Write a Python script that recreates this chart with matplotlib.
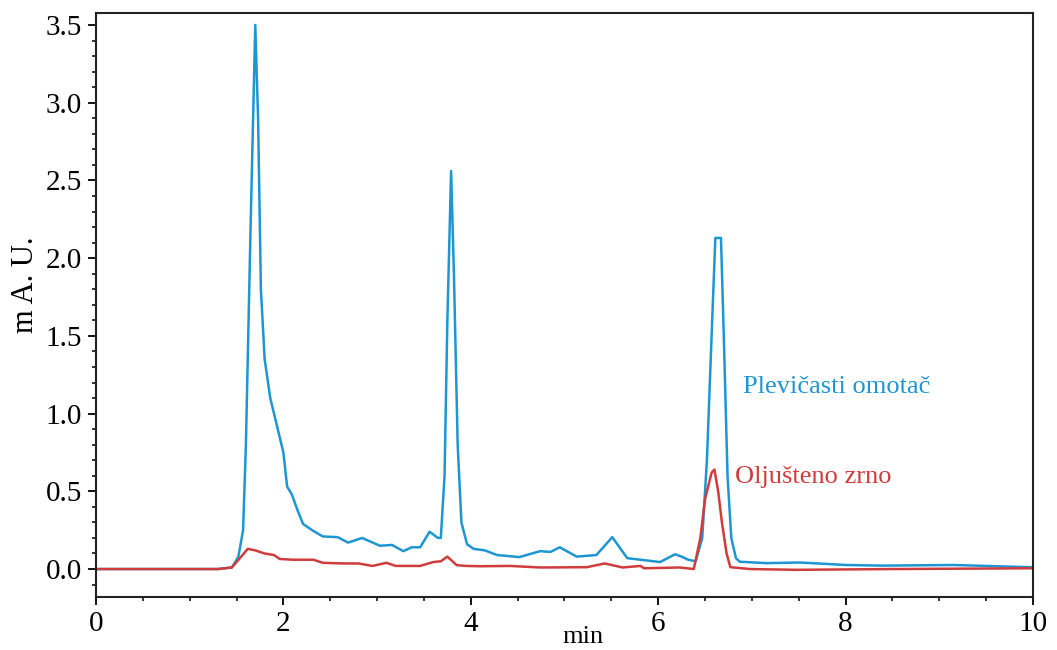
import numpy as np
import matplotlib.pyplot as plt
from matplotlib.ticker import MultipleLocator

# Chromatogram traces (time in min, signal in mAU)
blue_t = [0.0, 0.5, 1.0, 1.3, 1.45, 1.52, 1.57, 1.60, 1.65, 1.70, 1.73, 1.76,
          1.80, 1.86, 1.92, 2.00, 2.04, 2.09, 2.15, 2.21, 2.32, 2.42, 2.58, 2.69,
          2.84, 3.03, 3.16, 3.28, 3.37, 3.46, 3.56, 3.65, 3.68, 3.72, 3.75, 3.79,
          3.82, 3.86, 3.90, 3.96, 4.03, 4.15, 4.28, 4.52, 4.74, 4.85, 4.95, 5.13,
          5.34, 5.51, 5.67, 6.02, 6.18, 6.25, 6.32, 6.40, 6.47, 6.52, 6.57, 6.61,
          6.67, 6.70, 6.74, 6.78, 6.83, 6.87, 7.16, 7.51, 8.01, 8.40, 9.15, 9.97,
          10.0]
blue_y = [0.0, 0.0, 0.0, 0.0, 0.01, 0.08, 0.25, 0.8, 2.2, 3.5, 2.9, 1.8,
          1.35, 1.1, 0.95, 0.75, 0.53, 0.48, 0.38, 0.29, 0.245, 0.21, 0.205, 0.17,
          0.2, 0.15, 0.155, 0.115, 0.14, 0.14, 0.24, 0.2, 0.2, 0.6, 1.6, 2.56,
          1.9, 0.8, 0.3, 0.16, 0.13, 0.12, 0.09, 0.077, 0.115, 0.11, 0.14, 0.08,
          0.09, 0.205, 0.07, 0.045, 0.095, 0.08, 0.06, 0.05, 0.2, 0.7, 1.5, 2.13,
          2.13, 1.5, 0.6, 0.2, 0.07, 0.047, 0.038, 0.042, 0.026, 0.022, 0.026, 0.012,
          0.012]

red_t = [0.0, 0.5, 1.0, 1.3, 1.45, 1.55, 1.62, 1.70, 1.80, 1.90, 1.96, 2.10,
         2.32, 2.42, 2.64, 2.80, 2.95, 3.10, 3.20, 3.46, 3.60, 3.68, 3.75, 3.85,
         3.95, 4.10, 4.42, 4.74, 5.24, 5.43, 5.62, 5.81, 5.85, 6.23, 6.38, 6.45,
         6.50, 6.57, 6.60, 6.64, 6.68, 6.73, 6.77, 6.98, 7.48, 8.5, 10.0]
red_y = [0.0, 0.0, 0.0, 0.0, 0.01, 0.08, 0.13, 0.12, 0.1, 0.09, 0.065, 0.06,
         0.06, 0.04, 0.036, 0.036, 0.02, 0.04, 0.02, 0.02, 0.045, 0.05, 0.08, 0.025,
         0.02, 0.018, 0.02, 0.01, 0.012, 0.036, 0.01, 0.02, 0.005, 0.01, 0.0, 0.2,
         0.45, 0.62, 0.64, 0.5, 0.3, 0.1, 0.012, 0.0, -0.005, 0.0, 0.005]

blue_name = 'Plevičasti omotač'
red_name = 'Oljušteno zrno'

BLUE = '#1E96D2'
RED = '#D03C3C'

plt.rcParams['font.family'] = ['Liberation Serif', 'DejaVu Serif']

fig = plt.figure(figsize=(10.57, 6.5), dpi=100)
ax = fig.add_axes((0.0908, 0.0815, 0.8865, 0.8985))

ax.plot(blue_t, blue_y, color=BLUE, lw=1.8)
ax.plot(red_t, red_y, color=RED, lw=1.8)

ax.text(6.9, 1.17, blue_name, color=BLUE, fontsize=19, va='center')
ax.text(6.82, 0.59, red_name, color=RED, fontsize=19, va='center')

ax.set_xlim(0, 10)
ax.set_ylim(-0.18, 3.577)
ax.xaxis.set_major_locator(MultipleLocator(2))
ax.xaxis.set_minor_locator(MultipleLocator(0.5))
ax.yaxis.set_major_locator(MultipleLocator(0.5))
ax.yaxis.set_minor_locator(MultipleLocator(0.1))
ax.yaxis.set_major_formatter(lambda v, p: f'{v:.1f}')

ax.tick_params(which='major', direction='out', length=6, width=1.3, labelsize=21, pad=4)
ax.tick_params(which='minor', direction='out', length=3, width=1.1)
for s in ax.spines.values():
    s.set_linewidth(1.5)
    s.set_color('#222222')

ax.set_xlabel('min', fontsize=19)
ax.xaxis.set_label_coords(0.52, -0.05)
ax.set_ylabel('m A. U.', fontsize=22)
ax.yaxis.set_label_coords(-0.06, 0.535)

fig.savefig('out.png', dpi=100)
